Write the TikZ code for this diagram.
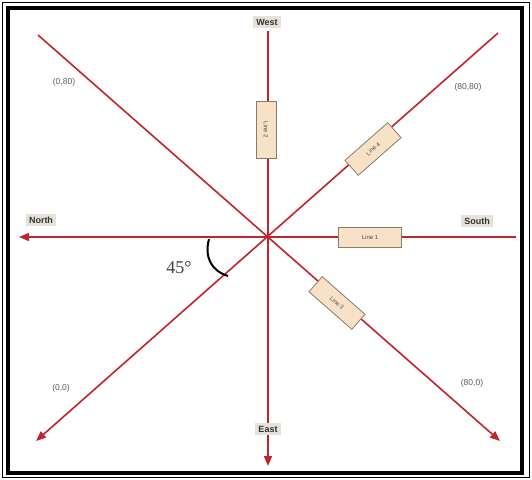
\documentclass[tikz,border=0pt]{standalone}
\usepackage{fontspec}
\setmainfont{Liberation Sans}
\newfontfamily\serifnum{Liberation Serif}
\usetikzlibrary{arrows.meta}
\definecolor{axisred}{HTML}{C0252F}
\definecolor{tagfill}{HTML}{E6E2DA}
\definecolor{boxfill}{HTML}{F7E2C8}
\definecolor{boxedge}{HTML}{8A7A68}
\definecolor{coordgray}{HTML}{5A5A5A}
\tikzset{
  redline/.style={draw=axisred, line width=1.6pt},
  tip/.style={-{Triangle[length=10pt,width=8pt]}},
  dirtag/.style={fill=tagfill, inner xsep=3pt, inner ysep=2.5pt, font=\bfseries\fontsize{9}{10}\selectfont, text=black!80},
  coordtag/.style={font=\fontsize{8.5}{10}\selectfont, text=coordgray},
  linebox/.style={draw=boxedge, fill=boxfill, line width=0.8pt, minimum width=57pt, minimum height=20pt, inner sep=0pt, font=\fontsize{6}{7}\selectfont, text=black!70}
}
\begin{document}
\begin{tikzpicture}[x=1pt,y=-1pt]
\useasboundingbox (0,0) rectangle (532,479);
\fill[white] (0,0) rectangle (532,479);
% frames
\draw[line width=0.8pt] (2,2) rectangle (529,477);
\draw[line width=3.2pt] (8,8) rectangle (522,473);
% key points
\coordinate (O) at (268,237);
\coordinate (topV) at (268,31);
\coordinate (botV) at (268,466);
\coordinate (rightH) at (516,237);
\coordinate (leftH) at (19,237);
\coordinate (nw) at (38,35);
\coordinate (se) at (500,441);
\coordinate (ne) at (498,33);
\coordinate (sw) at (36,441);
% axes
\draw[redline,tip] (topV) -- (botV);
\draw[redline,tip] (rightH) -- (leftH);
\draw[redline,tip] (nw) -- (se);
\draw[redline,tip] (ne) -- (sw);
% angle mark
\coordinate (a1) at (209,239);
\coordinate (a2) at (228,276);
\draw[black, line width=2pt] (a1) .. controls (204,258) and (212,271) .. (a2);
\node[font=\serifnum\fontsize{18}{19}\selectfont, text=black!75] (ang) at (179,268) {45\textdegree};
% direction tags
\node[dirtag] (west) at (267,22) {West};
\node[dirtag] (north) at (41,220) {North};
\node[dirtag] (south) at (477,221) {South};
\node[dirtag] (east) at (268,429) {East};
% coordinate tags
\node[coordtag] (c080) at (64,82) {(0,80)};
\node[coordtag] (c8080) at (468,87) {(80,80)};
\node[coordtag] (c00) at (61,388) {(0,0)};
\node[coordtag] (c800) at (472,383) {(80,0)};
% line boxes
\node[linebox, rotate=-90] (l2) at (266,130) {Line 2};
\node[linebox, minimum width=63pt] (l1) at (370,237) {Line 1};
\node[linebox, rotate=41.3] (l4) at (373,149) {Line 4};
\node[linebox, rotate=-41.3] (l3) at (337,303) {Line 3};
\end{tikzpicture}
\end{document}
